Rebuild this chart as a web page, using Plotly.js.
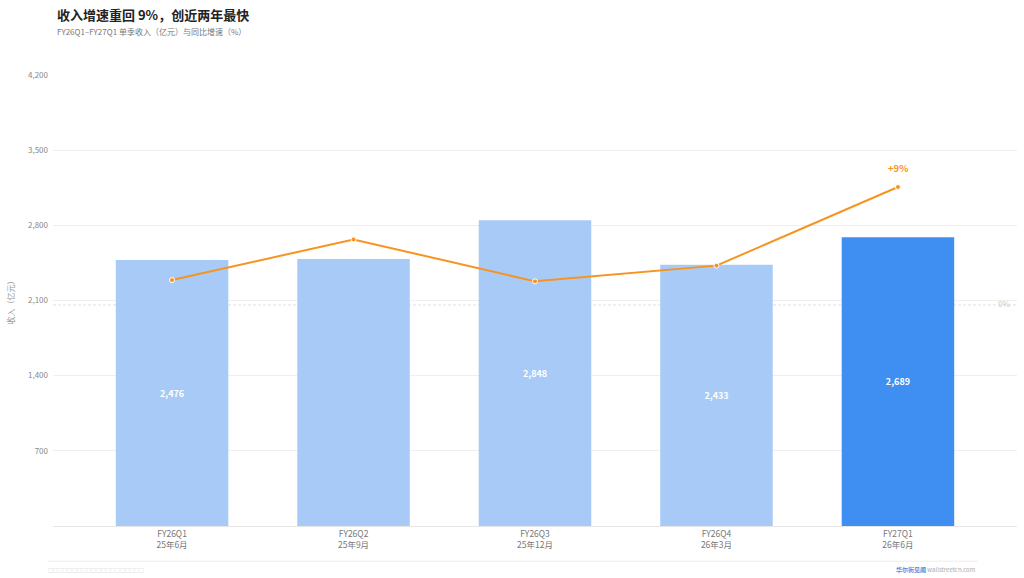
<!DOCTYPE html>
<html>
<head>
<meta charset="utf-8">
<script src="https://cdn.plot.ly/plotly-3.0.1.min.js"></script>
<style>
  html, body { margin: 0; padding: 0; background: #ffffff; }
  #chart { width: 1024px; height: 578px; }
</style>
</head>
<body>
<div id="chart"></div>
<script>
"use strict";

// 数据
const quarters = ['FY26Q1', 'FY26Q2', 'FY26Q3', 'FY26Q4', 'FY27Q1'];
const monthLabels = ['25年6月', '25年9月', '25年12月', '26年3月', '26年6月'];
const revenue = [2476, 2486, 2848, 2433, 2689];      // 单季收入（亿元）
const revenueLabels = ['2,476', '', '2,848', '2,433', '2,689']; // 原图 FY26Q2 无数值标签
const yoyGrowth = [1.9, 5.0, 1.8, 3.0, 9.0];          // 同比增速（%）
const revenueTicks = [700, 1400, 2100, 2800, 3500, 4200];

const FONT = '"Noto Sans CJK SC", "Noto Sans", sans-serif';
const barLight = '#a7cbf6';
const barDark = '#3f8ff2';
const lineOrange = '#f7931e';

const xLabels = quarters.map((q, i) => q + '<br>' + monthLabels[i]);
const xIdx = quarters.map((q, i) => i);

const barTrace = {
    type: 'bar',
    x: xIdx,
    y: revenue,
    text: revenueLabels,
    textposition: 'inside',
    insidetextanchor: 'middle',
    textfont: { family: FONT, size: 9, color: '#ffffff', weight: 'bold' },
    marker: { color: revenue.map((v, i) => i === revenue.length - 1 ? barDark : barLight) },
    hoverinfo: 'skip',
    cliponaxis: false
};

const lineTrace = {
    type: 'scatter',
    mode: 'lines+markers',
    x: xIdx,
    y: yoyGrowth,
    yaxis: 'y2',
    line: { color: lineOrange, width: 2 },
    marker: { color: lineOrange, size: 5, line: { color: '#ffffff', width: 1 } },
    hoverinfo: 'skip'
};

const last = yoyGrowth.length - 1;

const layout = {
    width: 1024,
    height: 578,
    margin: { l: 53, r: 7, t: 75, b: 52 },
    paper_bgcolor: '#ffffff',
    plot_bgcolor: '#ffffff',
    font: { family: FONT, color: '#888888', size: 8 },
    showlegend: false,
    bargap: 0.38,
    xaxis: {
        range: [-0.656, 4.656],
        tickmode: 'array',
        tickvals: xIdx,
        ticktext: xLabels,
        tickfont: { family: FONT, size: 8.5, color: '#777777' },
        showgrid: false,
        showline: true,
        linecolor: '#e6e6e6',
        linewidth: 1,
        ticks: '',
        zeroline: false,
        fixedrange: true
    },
    yaxis: {
        range: [0, 4200],
        tickmode: 'array',
        tickvals: revenueTicks,
        ticktext: revenueTicks.map(v => v.toLocaleString('en-US')),
        tickfont: { family: FONT, size: 8, color: '#888888' },
        ticklabelstandoff: 4,
        showgrid: true,
        gridcolor: 'rgba(225,225,225,0.55)',
        gridwidth: 1,
        zeroline: false,
        layer: 'above traces',
        title: { text: '收入（亿元）', font: { family: FONT, size: 8, color: '#999999' }, standoff: 12 },
        fixedrange: true
    },
    yaxis2: {
        overlaying: 'y',
        side: 'right',
        range: [-16.86, 17.54],
        visible: false,
        showgrid: false,
        zeroline: false,
        fixedrange: true
    },
    shapes: [
        // 0% 基准线
        { type: 'line', xref: 'paper', x0: 0, x1: 1, yref: 'y2', y0: 0, y1: 0,
          line: { color: '#e0e0e0', width: 1, dash: '3px,2px' }, layer: 'below' },
        // 底部分隔线
        { type: 'line', xref: 'paper', yref: 'paper', x0: -0.006, x1: 0.9595, y0: -0.078, y1: -0.078,
          line: { color: '#eeeeee', width: 1 } }
    ],
    annotations: [
        { xref: 'paper', yref: 'paper', x: 0.002, y: 1.135, xanchor: 'left', yanchor: 'middle',
          text: '<b>收入增速重回 9%，创近两年最快</b>', showarrow: false,
          font: { family: FONT, size: 13, color: '#222222' } },
        { xref: 'paper', yref: 'paper', x: 0.002, y: 1.097, xanchor: 'left', yanchor: 'middle',
          text: 'FY26Q1–FY27Q1 单季收入（亿元）与同比增速（%）', showarrow: false,
          font: { family: FONT, size: 8, color: '#777777' } },
        { x: last, y: yoyGrowth[last], xref: 'x', yref: 'y2', yshift: 19,
          text: '<b>+' + yoyGrowth[last] + '%</b>', showarrow: false,
          font: { family: FONT, size: 9.5, color: lineOrange } },
        { xref: 'paper', x: 0.995, xanchor: 'right', yref: 'y2', y: 0, yanchor: 'middle', yshift: 1,
          text: '0%', showarrow: false, font: { family: FONT, size: 8, color: '#cccccc' } },
        { xref: 'paper', yref: 'paper', x: -0.007, y: -0.097, xanchor: 'left', yanchor: 'middle',
          text: '□□□□□□□□□□□□□□□□□□□□', showarrow: false,
          font: { family: FONT, size: 4.8, color: '#c8c8c8' } },
        { xref: 'paper', yref: 'paper', x: 0.9595, y: -0.097, xanchor: 'right', yanchor: 'middle',
          text: '<span style="color:#4a8fe0"><b>华尔街见闻</b></span> wallstreetcn.com', showarrow: false,
          font: { family: FONT, size: 6, color: '#aaaaaa' } }
    ]
};

Plotly.newPlot('chart', [barTrace, lineTrace], layout, { displayModeBar: false, staticPlot: true });
</script>
</body>
</html>
